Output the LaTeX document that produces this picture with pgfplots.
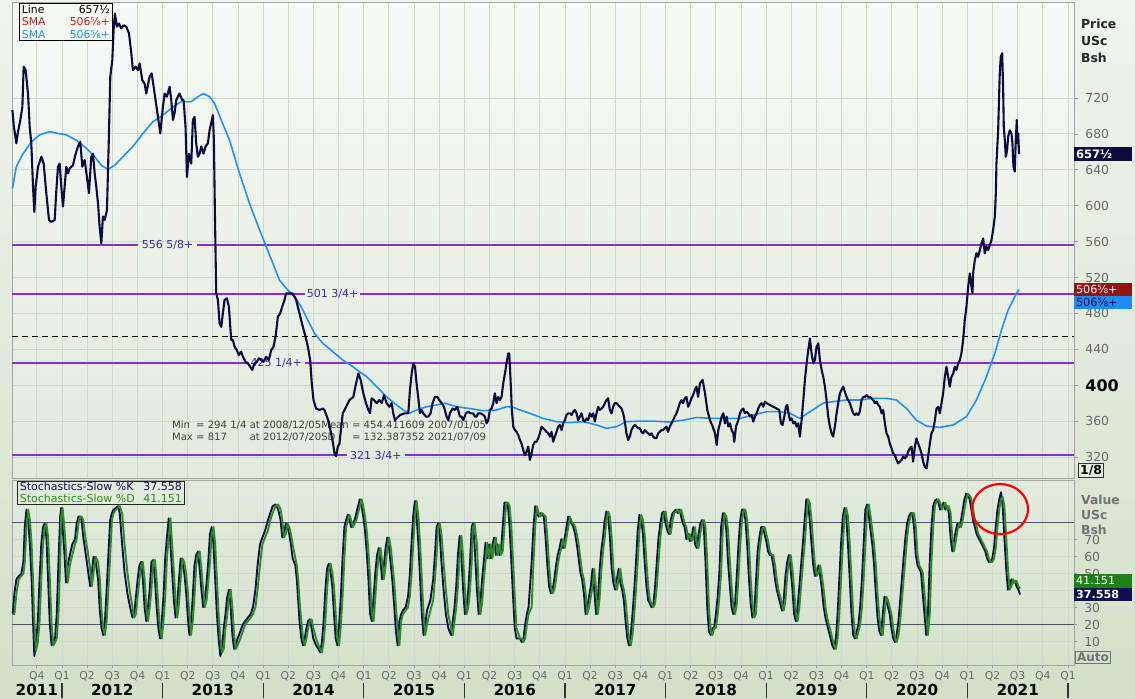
\documentclass[border=0pt]{standalone}
\usepackage{pgfplots}
\pgfplotsset{compat=1.18}
\usepackage{pgfplotstable}
\usepackage{fontspec}
\setmainfont{DejaVu Sans}
\definecolor{pricecol}{RGB}{12,12,62}
\definecolor{smacol}{RGB}{35,145,235}
\definecolor{purp}{RGB}{140,45,205}
\definecolor{purptext}{RGB}{60,45,150}
\definecolor{kcol}{RGB}{14,16,80}
\definecolor{dcol}{RGB}{45,140,35}
\definecolor{bgTop}{RGB}{247,249,245}
\definecolor{bgBot}{RGB}{225,234,219}
\definecolor{sTop}{RGB}{226,235,220}
\definecolor{sBot}{RGB}{212,226,203}
\definecolor{pageTop}{RGB}{240,244,237}
\definecolor{pageBot}{RGB}{210,224,200}
\definecolor{gridcol}{RGB}{208,215,206}
\definecolor{ticklab}{RGB}{105,105,105}
\definecolor{darkred}{RGB}{150,20,20}
\definecolor{legred}{RGB}{175,35,35}
\definecolor{boxblue}{RGB}{30,140,240}
\definecolor{boxgreen}{RGB}{30,130,20}
\definecolor{stochline}{RGB}{75,85,115}
\newcommand\fs[2]{\fontsize{#1}{#2}\selectfont}

\pgfplotstableread{
x y
2011.507 706.6
2011.520 690
2011.546 669.5
2011.563 682.5
2011.586 695.5
2011.606 710
2011.619 755
2011.639 751
2011.662 725
2011.679 688
2011.695 669.5
2011.712 621
2011.725 593
2011.738 621
2011.762 643.5
2011.795 654.6
2011.818 647
2011.844 614
2011.871 584
2011.894 582
2011.927 584
2011.944 617.5
2011.960 643.5
2011.977 647
2011.993 621
2012.010 599
2012.026 621
2012.043 643.5
2012.060 636
2012.076 641.6
2012.109 645
2012.136 658
2012.159 666
2012.182 671
2012.202 643.5
2012.225 651
2012.248 632
2012.268 614
2012.291 654.6
2012.308 658
2012.325 636
2012.341 621
2012.358 602.6
2012.374 576.6
2012.391 558
2012.407 588
2012.424 584
2012.447 595
2012.467 680.6
2012.480 743.8
2012.500 762
2012.513 796
2012.526 814
2012.546 799.5
2012.566 803
2012.589 797.6
2012.613 801
2012.639 799.5
2012.666 792
2012.689 770
2012.705 751
2012.732 755
2012.755 751
2012.772 758.6
2012.798 740
2012.821 736
2012.838 725
2012.871 743.8
2012.891 747.5
2012.911 732.6
2012.930 717.8
2012.954 699
2012.977 680.6
2013.003 710
2013.020 725
2013.043 721.5
2013.070 732.6
2013.086 717.8
2013.103 695.5
2013.119 703
2013.136 717.8
2013.152 721.5
2013.169 725
2013.195 717.8
2013.209 717.8
2013.228 688
2013.242 632
2013.262 658
2013.285 647
2013.301 695.5
2013.318 699
2013.334 669.5
2013.351 654.6
2013.368 658
2013.384 666
2013.407 658
2013.427 666
2013.450 669.5
2013.467 684
2013.483 692
2013.500 701
2013.510 673
2013.520 591.5
2013.533 502.4
2013.550 495
2013.566 469
2013.583 465
2013.599 480
2013.616 495
2013.639 496.8
2013.659 487.5
2013.682 450.4
2013.699 450.4
2013.715 443
2013.738 439
2013.758 433.6
2013.781 437.4
2013.798 431.8
2013.825 426
2013.848 424.4
2013.871 420.6
2013.891 417
2013.914 424.4
2013.937 426
2013.957 430
2013.980 428
2014.003 426
2014.030 431.8
2014.056 428
2014.079 439
2014.103 443
2014.123 454
2014.146 476.4
2014.169 480
2014.189 487.5
2014.212 495
2014.228 502.4
2014.262 502.4
2014.288 502.4
2014.311 498.7
2014.328 495
2014.344 487.5
2014.361 480
2014.394 465
2014.421 454
2014.444 443
2014.467 428
2014.483 402
2014.500 383.5
2014.526 374
2014.560 372.4
2014.593 374
2014.609 372.4
2014.650 360
2014.690 338
2014.709 324
2014.725 321
2014.742 331.5
2014.758 335
2014.791 368.7
2014.825 376
2014.858 383.5
2014.896 387
2014.923 402
2014.946 413
2014.969 406
2014.995 391
2015.022 380
2015.045 372.4
2015.062 368.7
2015.078 385.4
2015.101 383.5
2015.128 380
2015.154 383.5
2015.178 380
2015.201 389
2015.227 380
2015.254 376
2015.277 380
2015.293 368.7
2015.310 361
2015.360 366.8
2015.409 368.7
2015.442 368.7
2015.459 394.7
2015.476 413
2015.492 424.4
2015.509 420.6
2015.525 402
2015.542 385.4
2015.558 368.7
2015.575 372.4
2015.591 368.7
2015.618 365
2015.641 365
2015.664 368.7
2015.684 380
2015.707 387
2015.731 387
2015.750 383.5
2015.774 380
2015.797 376
2015.823 365
2015.840 361
2015.856 368.7
2015.883 374
2015.906 372.4
2015.929 376
2015.956 365
2015.972 365
2015.989 361
2016.015 368.7
2016.038 370.5
2016.062 368.7
2016.088 368.7
2016.105 365
2016.121 365
2016.138 368.7
2016.161 368.7
2016.188 366.8
2016.204 365
2016.221 357.5
2016.237 361
2016.254 372.4
2016.270 374
2016.287 380
2016.303 391
2016.320 380
2016.337 387
2016.353 383.5
2016.370 387
2016.386 402
2016.403 413
2016.419 424.4
2016.436 435.5
2016.446 435.5
2016.459 406
2016.472 372.4
2016.486 353.8
2016.502 350
2016.519 348
2016.535 344.5
2016.552 339
2016.568 335
2016.585 327.8
2016.601 322
2016.618 326
2016.635 331.5
2016.651 316.7
2016.668 324
2016.684 333.4
2016.701 337
2016.717 337
2016.734 341
2016.750 346.4
2016.767 353.8
2016.784 352
2016.800 350
2016.817 348
2016.833 346.4
2016.850 342.7
2016.866 348
2016.883 337
2016.899 342.7
2016.916 348
2016.933 353.8
2016.949 355.7
2016.966 350
2016.982 357.5
2016.999 361
2017.015 366.8
2017.032 368.7
2017.048 368.7
2017.065 366.8
2017.082 370.5
2017.098 372.4
2017.115 368.7
2017.131 361
2017.148 365
2017.164 368.7
2017.181 361
2017.197 359.4
2017.214 363
2017.231 361
2017.247 368.7
2017.264 365
2017.280 368.7
2017.297 359.4
2017.313 368.7
2017.330 376
2017.346 372.4
2017.363 374
2017.380 376
2017.396 380
2017.413 383.5
2017.429 385.4
2017.446 372.4
2017.462 368.7
2017.479 376
2017.495 380
2017.512 380
2017.529 378
2017.545 376
2017.562 374
2017.578 368.7
2017.595 359.4
2017.611 346.4
2017.628 339
2017.644 342.7
2017.661 350
2017.678 353.8
2017.694 355.7
2017.711 353.8
2017.727 352
2017.744 352
2017.760 348
2017.777 346.4
2017.793 350
2017.810 348
2017.827 346.4
2017.843 344.5
2017.860 346.4
2017.876 342.7
2017.893 341
2017.909 341
2017.926 346.4
2017.942 348
2017.959 350
2017.976 350
2017.992 352
2018.009 353.8
2018.025 348
2018.042 353.8
2018.058 357.5
2018.075 361
2018.091 365
2018.108 368.7
2018.125 374
2018.141 380
2018.158 383.5
2018.174 380
2018.191 385.4
2018.207 387
2018.224 376
2018.240 380
2018.257 385.4
2018.274 389
2018.290 394.7
2018.307 398.4
2018.323 387
2018.342 402
2018.368 406
2018.392 391
2018.415 372.4
2018.441 361
2018.468 354
2018.491 346.4
2018.508 333.4
2018.524 350
2018.541 357.5
2018.557 365
2018.574 368.7
2018.590 357.5
2018.607 365
2018.623 354
2018.640 357.5
2018.657 350
2018.673 346.4
2018.683 337
2018.700 354
2018.723 361
2018.739 368.7
2018.756 372.4
2018.772 374
2018.789 368.7
2018.806 370.5
2018.822 368.7
2018.839 365
2018.855 366.8
2018.872 359.4
2018.888 365
2018.905 368.7
2018.921 374
2018.938 378
2018.955 380
2018.971 376
2018.988 381.7
2019.004 380
2019.037 378
2019.070 376
2019.104 374
2019.130 372.4
2019.147 357.5
2019.163 355.7
2019.180 365
2019.196 376
2019.210 378
2019.223 368.7
2019.236 361
2019.253 363
2019.269 357.5
2019.286 359.4
2019.302 354
2019.319 357.5
2019.335 342.7
2019.352 361
2019.369 383.5
2019.385 406
2019.402 424.4
2019.418 439
2019.435 452
2019.451 435.5
2019.468 424.4
2019.484 428
2019.501 443
2019.518 446.6
2019.534 428
2019.551 417
2019.567 409.5
2019.584 398.4
2019.600 383.5
2019.617 365
2019.633 354
2019.650 346.4
2019.666 342.7
2019.683 354
2019.700 368.7
2019.716 380
2019.733 391
2019.749 394.7
2019.766 398.4
2019.782 392.8
2019.799 387
2019.815 383.5
2019.832 380
2019.849 374
2019.865 368.7
2019.882 366.8
2019.898 368.7
2019.915 366.8
2019.931 370.5
2019.948 383.5
2019.965 387
2019.981 387
2019.998 389
2020.014 387
2020.031 387
2020.047 385.4
2020.064 383.5
2020.080 380
2020.097 381.7
2020.114 378
2020.130 376
2020.147 368.7
2020.163 372.4
2020.180 357.5
2020.196 346.4
2020.213 342.7
2020.229 335
2020.246 329.7
2020.263 324
2020.279 322
2020.296 316.7
2020.312 313
2020.329 314.8
2020.345 316.7
2020.362 320.4
2020.379 318.5
2020.395 320.4
2020.412 326
2020.428 329.7
2020.445 331.5
2020.461 314.8
2020.478 331.5
2020.494 340.8
2020.511 335
2020.528 329.7
2020.544 324
2020.561 314.8
2020.577 309
2020.594 307.4
2020.610 320.4
2020.627 335
2020.643 346.4
2020.660 350
2020.677 361
2020.693 374
2020.710 376
2020.726 368.7
2020.743 380
2020.759 391
2020.776 409.5
2020.792 420.6
2020.809 409.5
2020.825 398.4
2020.842 409.5
2020.859 413
2020.875 420.6
2020.892 417
2020.908 424.4
2020.925 428
2020.941 435.5
2020.958 450.4
2020.974 472.6
2020.991 487.5
2021.008 509.8
2021.024 524.6
2021.041 509.8
2021.051 502.4
2021.057 524.6
2021.074 539.5
2021.090 547
2021.107 543
2021.124 550.6
2021.140 558
2021.157 563.6
2021.173 547
2021.190 554.4
2021.206 550.6
2021.223 556
2021.240 561.8
2021.256 573
2021.273 588
2021.283 614
2021.289 647
2021.306 684
2021.316 725
2021.322 747.5
2021.332 766
2021.346 770
2021.355 732.6
2021.362 688
2021.372 673
2021.382 654.6
2021.395 662
2021.405 677
2021.422 684
2021.438 680.6
2021.448 669.5
2021.458 643.5
2021.471 638
2021.481 673
2021.491 695.5
2021.498 669.5
2021.505 680.6
2021.514 657.5
}\pricetab

\pgfplotstableread{
x y
2011.507 619
2011.546 643.5
2011.613 658
2011.695 671
2011.778 679
2011.877 682.5
2011.960 680.6
2012.043 679
2012.142 673
2012.242 664
2012.325 654.6
2012.391 645
2012.457 640.5
2012.523 645
2012.606 654.6
2012.705 666
2012.805 680.6
2012.904 693.6
2013.003 701
2013.103 710
2013.185 716
2013.285 716
2013.351 721.5
2013.407 725
2013.467 721.5
2013.517 714
2013.583 695.5
2013.666 673
2013.765 636
2013.864 602.6
2013.964 573
2014.030 554.4
2014.096 535.8
2014.162 517
2014.245 506
2014.311 499
2014.377 487.5
2014.444 472.6
2014.510 457.8
2014.593 446.6
2014.692 437.4
2014.791 428
2014.891 420.6
2014.957 415
2015.029 409.5
2015.128 398.4
2015.227 387
2015.327 378
2015.393 372.4
2015.452 368.7
2015.525 372.4
2015.625 376
2015.724 378
2015.807 380
2015.923 376
2016.055 374
2016.188 371.6
2016.320 372.4
2016.419 376
2016.469 376
2016.552 372.4
2016.651 368.7
2016.784 363
2016.916 359.4
2017.048 358.3
2017.181 359.4
2017.313 355.7
2017.413 352
2017.512 353.8
2017.611 359.4
2017.744 360
2017.876 360
2018.042 359
2018.174 361
2018.307 364
2018.474 363
2018.607 363
2018.739 363
2018.872 366.8
2019.004 370.5
2019.137 370.5
2019.236 368.7
2019.335 363
2019.435 370.5
2019.567 380
2019.666 381.7
2019.799 383.5
2019.931 383.5
2020.064 385.4
2020.196 385.4
2020.296 383.5
2020.395 374
2020.494 361
2020.594 354.5
2020.726 353
2020.859 355.7
2020.991 365
2021.090 383.5
2021.190 409.5
2021.273 435.5
2021.339 461.5
2021.405 483.8
2021.471 498.6
2021.514 506.6
}\smatab

\pgfplotstableread{
x k d
2011.510 26.1 26.1
2011.527 38.4 26.1
2011.547 46.6 38.4
2011.571 48.6 46.6
2011.595 49.7 48.6
2011.616 56.8 49.7
2011.630 77.3 56.8
2011.647 87.6 77.3
2011.664 81.4 87.6
2011.681 67.1 81.4
2011.698 46.6 67.1
2011.712 22.0 46.6
2011.725 1.5 22.0
2011.742 9.7 4.5
2011.760 22.0 9.7
2011.777 46.6 22.0
2011.794 67.1 46.6
2011.811 77.3 67.1
2011.828 79.4 77.3
2011.845 71.2 79.4
2011.862 46.6 71.2
2011.879 20.0 46.6
2011.897 7.7 20.0
2011.914 9.7 7.7
2011.931 11.8 9.7
2011.948 26.1 11.8
2011.965 56.8 26.1
2011.982 83.5 56.8
2011.992 88.6 83.5
2012.006 77.3 88.6
2012.023 63.0 77.3
2012.040 44.6 63.0
2012.057 54.8 44.6
2012.078 60.9 54.8
2012.102 67.1 60.9
2012.129 70.2 67.1
2012.146 79.4 70.2
2012.164 83.5 79.4
2012.181 83.5 83.5
2012.194 81.4 83.5
2012.212 71.2 81.4
2012.232 63.0 71.2
2012.256 52.8 63.0
2012.280 42.5 52.8
2012.297 50.7 42.5
2012.314 59.9 50.7
2012.335 56.8 59.9
2012.359 46.6 56.8
2012.376 28.2 46.6
2012.393 17.9 28.2
2012.410 13.8 17.9
2012.427 22.0 13.8
2012.444 40.5 22.0
2012.461 60.9 40.5
2012.479 81.4 60.9
2012.496 85.5 81.4
2012.513 87.6 85.5
2012.537 88.6 87.6
2012.557 89.6 88.6
2012.574 85.5 89.6
2012.598 67.1 85.5
2012.622 50.7 67.1
2012.650 38.4 50.7
2012.677 30.2 38.4
2012.701 24.1 30.2
2012.718 26.1 24.1
2012.735 36.4 26.1
2012.752 46.6 36.4
2012.770 54.8 46.6
2012.787 56.8 54.8
2012.804 46.6 56.8
2012.821 30.2 46.6
2012.838 22.0 30.2
2012.855 30.2 22.0
2012.872 40.5 30.2
2012.889 56.8 40.5
2012.906 57.9 56.8
2012.924 46.6 57.9
2012.941 30.2 46.6
2012.958 17.9 30.2
2012.975 11.8 17.9
2012.992 22.0 11.8
2013.009 36.4 22.0
2013.026 58.9 36.4
2013.043 71.2 58.9
2013.061 82.5 71.2
2013.078 67.1 82.5
2013.095 50.7 67.1
2013.112 34.3 50.7
2013.129 24.1 34.3
2013.146 32.3 24.1
2013.163 46.6 32.3
2013.180 58.9 46.6
2013.197 56.8 58.9
2013.215 50.7 56.8
2013.232 40.5 50.7
2013.249 26.1 40.5
2013.266 13.8 26.1
2013.283 22.0 13.8
2013.300 36.4 22.0
2013.317 54.8 36.4
2013.334 60.9 54.8
2013.352 63.0 60.9
2013.369 52.8 63.0
2013.386 40.5 52.8
2013.403 30.2 40.5
2013.420 34.3 30.2
2013.437 44.6 34.3
2013.454 56.8 44.6
2013.471 73.2 56.8
2013.488 77.3 73.2
2013.506 67.1 77.3
2013.523 46.6 67.1
2013.540 26.1 46.6
2013.557 11.8 26.1
2013.574 1.5 11.8
2013.591 5.7 3.5
2013.608 17.9 5.7
2013.625 26.1 17.9
2013.643 36.4 26.1
2013.660 40.5 36.4
2013.677 30.2 40.5
2013.694 13.8 30.2
2013.711 5.7 13.8
2013.728 7.7 5.7
2013.745 11.8 7.7
2013.773 15.9 11.8
2013.797 20.0 15.9
2013.821 22.0 20.0
2013.848 24.1 22.0
2013.875 26.1 24.1
2013.899 30.2 26.1
2013.923 40.5 30.2
2013.944 54.8 40.5
2013.968 67.1 54.8
2013.992 71.2 67.1
2014.019 75.3 71.2
2014.047 81.4 75.3
2014.070 85.5 81.4
2014.094 89.6 85.5
2014.122 90.6 89.6
2014.149 87.6 90.6
2014.173 81.4 87.6
2014.190 71.2 81.4
2014.207 73.2 71.2
2014.225 79.4 73.2
2014.242 77.3 79.4
2014.259 73.2 77.3
2014.276 67.1 73.2
2014.293 58.9 67.1
2014.320 54.8 58.9
2014.334 46.6 54.8
2014.348 34.3 46.6
2014.361 22.0 34.3
2014.379 11.8 22.0
2014.396 7.7 11.8
2014.413 11.8 7.7
2014.430 17.9 11.8
2014.447 22.0 17.9
2014.464 23.1 22.0
2014.481 17.9 23.1
2014.498 11.8 17.9
2014.526 7.7 11.8
2014.550 5.7 7.7
2014.567 3.6 5.7
2014.584 9.7 3.6
2014.601 22.0 9.7
2014.618 40.5 22.0
2014.635 52.8 40.5
2014.652 55.8 52.8
2014.670 50.7 55.8
2014.687 42.5 50.7
2014.704 26.1 42.5
2014.721 11.8 26.1
2014.738 7.7 11.8
2014.755 20.0 7.7
2014.772 36.4 20.0
2014.789 58.9 36.4
2014.807 77.3 58.9
2014.824 81.4 77.3
2014.841 84.5 81.4
2014.858 81.4 84.5
2014.875 77.3 81.4
2014.892 79.4 77.3
2014.909 81.4 79.4
2014.926 85.5 81.4
2014.943 89.6 85.5
2014.961 93.7 89.6
2014.978 89.6 93.7
2014.995 83.5 89.6
2015.012 75.3 83.5
2015.029 63.0 75.3
2015.046 46.6 63.0
2015.063 26.1 46.6
2015.080 22.0 26.1
2015.098 36.4 22.0
2015.115 50.7 36.4
2015.132 60.9 50.7
2015.149 65.0 60.9
2015.166 56.8 65.0
2015.183 46.6 56.8
2015.200 54.8 46.6
2015.217 65.0 54.8
2015.234 71.2 65.0
2015.252 65.0 71.2
2015.269 54.8 65.0
2015.286 44.6 54.8
2015.303 30.2 44.6
2015.320 15.9 30.2
2015.337 7.7 15.9
2015.354 22.0 7.7
2015.371 26.1 22.0
2015.389 28.2 26.1
2015.416 30.2 28.2
2015.440 36.4 30.2
2015.457 48.6 36.4
2015.474 67.1 48.6
2015.491 83.5 67.1
2015.508 92.7 83.5
2015.525 83.5 92.7
2015.543 67.1 83.5
2015.560 46.6 67.1
2015.577 26.1 46.6
2015.594 13.8 26.1
2015.611 20.0 13.8
2015.628 28.2 20.0
2015.662 34.3 28.2
2015.690 46.6 34.3
2015.707 60.9 46.6
2015.724 77.3 60.9
2015.738 79.4 77.3
2015.755 73.2 79.4
2015.772 56.8 73.2
2015.793 40.5 56.8
2015.816 26.1 40.5
2015.840 17.9 26.1
2015.868 13.8 17.9
2015.885 22.0 13.8
2015.902 30.2 22.0
2015.919 42.5 30.2
2015.936 60.9 42.5
2015.953 72.2 60.9
2015.971 58.9 72.2
2015.988 40.5 58.9
2016.005 26.1 40.5
2016.022 30.2 26.1
2016.039 40.5 30.2
2016.056 56.8 40.5
2016.073 77.3 56.8
2016.084 79.4 77.3
2016.101 67.1 79.4
2016.125 40.5 67.1
2016.142 26.1 40.5
2016.159 32.3 26.1
2016.176 46.6 32.3
2016.193 56.8 46.6
2016.210 68.1 56.8
2016.227 58.9 68.1
2016.244 67.1 58.9
2016.262 58.9 67.1
2016.279 67.1 58.9
2016.296 71.2 67.1
2016.313 60.9 71.2
2016.330 67.1 60.9
2016.347 60.9 67.1
2016.364 63.0 60.9
2016.381 77.3 63.0
2016.398 91.7 77.3
2016.416 91.7 91.7
2016.433 89.6 91.7
2016.450 77.3 89.6
2016.467 56.8 77.3
2016.484 36.4 56.8
2016.501 17.9 36.4
2016.518 11.8 17.9
2016.553 11.8 11.8
2016.570 9.7 11.8
2016.587 11.8 9.7
2016.604 20.0 11.8
2016.621 26.1 20.0
2016.638 30.2 26.1
2016.669 56.8 30.2
2016.687 77.3 56.8
2016.704 89.6 77.3
2016.721 85.5 89.6
2016.738 83.5 85.5
2016.756 85.5 83.5
2016.773 84.5 85.5
2016.790 83.5 84.5
2016.807 71.2 83.5
2016.825 54.8 71.2
2016.842 42.5 54.8
2016.859 38.4 42.5
2016.877 40.5 38.4
2016.894 46.6 40.5
2016.911 54.8 46.6
2016.928 60.9 54.8
2016.946 65.0 60.9
2016.963 70.2 65.0
2016.980 65.0 70.2
2016.998 71.2 65.0
2017.015 77.3 71.2
2017.032 83.5 77.3
2017.049 80.4 83.5
2017.067 79.4 80.4
2017.084 77.3 79.4
2017.101 73.2 77.3
2017.118 67.1 73.2
2017.136 58.9 67.1
2017.153 50.7 58.9
2017.170 46.6 50.7
2017.188 38.4 46.6
2017.205 26.1 38.4
2017.222 30.2 26.1
2017.239 36.4 30.2
2017.257 42.5 36.4
2017.274 52.8 42.5
2017.291 40.5 52.8
2017.309 26.1 40.5
2017.326 34.3 26.1
2017.343 50.7 34.3
2017.360 63.0 50.7
2017.378 71.2 63.0
2017.395 81.4 71.2
2017.412 86.5 81.4
2017.429 83.5 86.5
2017.447 71.2 83.5
2017.464 52.8 71.2
2017.481 44.6 52.8
2017.499 40.5 44.6
2017.516 46.6 40.5
2017.533 52.8 46.6
2017.550 44.6 52.8
2017.568 40.5 44.6
2017.585 34.3 40.5
2017.602 22.0 34.3
2017.620 11.8 22.0
2017.637 7.7 11.8
2017.654 13.8 7.7
2017.671 26.1 13.8
2017.689 40.5 26.1
2017.706 56.8 40.5
2017.723 75.3 56.8
2017.740 84.5 75.3
2017.758 81.4 84.5
2017.775 73.2 81.4
2017.792 56.8 73.2
2017.810 42.5 56.8
2017.827 34.3 42.5
2017.844 32.3 34.3
2017.861 30.2 32.3
2017.879 32.3 30.2
2017.896 42.5 32.3
2017.913 56.8 42.5
2017.930 71.2 56.8
2017.948 79.4 71.2
2017.965 85.5 79.4
2017.982 86.5 85.5
2018.000 79.4 86.5
2018.017 75.3 79.4
2018.034 73.2 75.3
2018.051 81.4 73.2
2018.069 85.5 81.4
2018.086 86.5 85.5
2018.103 87.6 86.5
2018.121 85.5 87.6
2018.138 87.6 85.5
2018.155 83.5 87.6
2018.172 79.4 83.5
2018.190 77.3 79.4
2018.207 70.2 77.3
2018.224 73.2 70.2
2018.241 69.1 73.2
2018.259 71.2 69.1
2018.276 77.3 71.2
2018.293 67.1 77.3
2018.311 65.0 67.1
2018.328 73.2 65.0
2018.345 79.4 73.2
2018.362 81.4 79.4
2018.380 77.3 81.4
2018.397 56.8 77.3
2018.414 30.2 56.8
2018.431 15.9 30.2
2018.449 13.8 15.9
2018.466 17.9 13.8
2018.483 17.9 17.9
2018.500 26.1 17.9
2018.518 36.4 26.1
2018.535 50.7 36.4
2018.552 77.3 50.7
2018.570 85.5 77.3
2018.587 83.5 85.5
2018.604 75.3 83.5
2018.621 56.8 75.3
2018.639 42.5 56.8
2018.656 30.2 42.5
2018.673 26.1 30.2
2018.691 32.3 26.1
2018.708 48.6 32.3
2018.725 67.1 48.6
2018.742 81.4 67.1
2018.760 87.6 81.4
2018.777 87.6 87.6
2018.794 81.4 87.6
2018.811 67.1 81.4
2018.829 46.6 67.1
2018.846 32.3 46.6
2018.863 24.1 32.3
2018.881 26.1 24.1
2018.898 44.6 26.1
2018.915 63.0 44.6
2018.932 71.2 63.0
2018.950 77.3 71.2
2018.967 77.3 77.3
2018.984 73.2 77.3
2019.001 69.1 73.2
2019.019 63.0 69.1
2019.036 60.9 63.0
2019.053 60.9 60.9
2019.071 54.8 60.9
2019.088 46.6 54.8
2019.105 40.5 46.6
2019.122 36.4 40.5
2019.140 32.3 36.4
2019.157 28.2 32.3
2019.174 34.3 28.2
2019.192 48.6 34.3
2019.209 56.8 48.6
2019.226 60.9 56.8
2019.243 52.8 60.9
2019.261 40.5 52.8
2019.278 26.1 40.5
2019.295 22.0 26.1
2019.312 30.2 22.0
2019.330 42.5 30.2
2019.347 54.8 42.5
2019.364 67.1 54.8
2019.382 81.4 67.1
2019.399 93.7 81.4
2019.416 91.7 93.7
2019.433 81.4 91.7
2019.451 67.1 81.4
2019.468 54.8 67.1
2019.485 48.6 54.8
2019.503 50.7 48.6
2019.520 54.8 50.7
2019.537 48.6 54.8
2019.554 40.5 48.6
2019.572 30.2 40.5
2019.589 24.1 30.2
2019.606 20.0 24.1
2019.623 15.9 20.0
2019.641 11.8 15.9
2019.658 7.7 11.8
2019.675 5.7 7.7
2019.693 11.8 5.7
2019.710 26.1 11.8
2019.727 46.6 26.1
2019.744 67.1 46.6
2019.762 83.5 67.1
2019.779 88.6 83.5
2019.796 83.5 88.6
2019.813 67.1 83.5
2019.831 46.6 67.1
2019.848 26.1 46.6
2019.865 13.8 26.1
2019.883 11.8 13.8
2019.900 15.9 11.8
2019.917 20.0 15.9
2019.934 30.2 20.0
2019.952 46.6 30.2
2019.969 67.1 46.6
2019.986 87.6 67.1
2020.004 90.6 87.6
2020.021 83.5 90.6
2020.038 75.3 83.5
2020.055 67.1 75.3
2020.073 54.8 67.1
2020.090 38.4 54.8
2020.107 24.1 38.4
2020.125 15.9 24.1
2020.142 13.8 15.9
2020.159 26.1 13.8
2020.176 36.4 26.1
2020.194 34.3 36.4
2020.211 30.2 34.3
2020.228 26.1 30.2
2020.245 17.9 26.1
2020.263 11.8 17.9
2020.280 9.7 11.8
2020.297 13.8 9.7
2020.315 22.0 13.8
2020.332 34.3 22.0
2020.349 46.6 34.3
2020.366 58.9 46.6
2020.384 71.2 58.9
2020.401 79.4 71.2
2020.418 83.5 79.4
2020.436 85.5 83.5
2020.453 85.5 85.5
2020.470 77.3 85.5
2020.487 60.9 77.3
2020.505 54.8 60.9
2020.522 52.8 54.8
2020.539 50.7 52.8
2020.556 38.4 50.7
2020.574 26.1 38.4
2020.591 13.8 26.1
2020.608 26.1 13.8
2020.626 56.8 26.1
2020.643 77.3 56.8
2020.660 89.6 77.3
2020.677 92.7 89.6
2020.695 93.7 92.7
2020.712 91.7 93.7
2020.729 87.6 91.7
2020.747 89.6 87.6
2020.764 91.7 89.6
2020.781 87.6 91.7
2020.798 89.6 87.6
2020.816 85.5 89.6
2020.833 71.2 85.5
2020.850 63.0 71.2
2020.867 69.1 63.0
2020.885 75.3 69.1
2020.902 79.4 75.3
2020.919 77.3 79.4
2020.937 81.4 77.3
2020.954 87.6 81.4
2020.971 93.7 87.6
2020.988 96.8 93.7
2021.006 95.8 96.8
2021.023 93.7 95.8
2021.040 87.6 93.7
2021.057 81.4 87.6
2021.075 77.3 81.4
2021.092 73.2 77.3
2021.109 71.2 73.2
2021.127 69.1 71.2
2021.144 67.1 69.1
2021.161 65.0 67.1
2021.178 63.0 65.0
2021.196 58.9 63.0
2021.213 56.8 58.9
2021.230 56.8 56.8
2021.248 58.9 56.8
2021.265 65.0 58.9
2021.282 77.3 65.0
2021.299 87.6 77.3
2021.317 93.7 87.6
2021.334 97.8 93.7
2021.351 89.6 95.0
2021.368 71.2 89.6
2021.386 52.8 71.2
2021.403 40.5 52.8
2021.420 42.5 40.5
2021.438 46.6 42.5
2021.455 44.6 46.6
2021.472 45.6 44.6
2021.489 42.5 45.6
2021.507 40.5 42.5
2021.524 37.6 41.2
}\stochtab

\pgfplotsset{
  qticks/.style={
    xtick={2011.75,2012,2012.25,2012.5,2012.75,2013,2013.25,2013.5,2013.75,2014,2014.25,2014.5,2014.75,2015,2015.25,2015.5,2015.75,2016,2016.25,2016.5,2016.75,2017,2017.25,2017.5,2017.75,2018,2018.25,2018.5,2018.75,2019,2019.25,2019.5,2019.75,2020,2020.25,2020.5,2020.75,2021,2021.25,2021.5,2021.75,2022},
  },
  common/.style={
    scale only axis, width=531pt, xmin=2011.503, xmax=2022.06,
    clip=false,
    axis line style={draw=gray!70},
    xmajorgrids, ymajorgrids,
    major grid style={draw=gridcol, line width=0.45pt},
    tick align=outside,
    major tick length=2.2pt,
    tick style={draw=gray!80, line width=0.4pt},
    ytick pos=right, yticklabel pos=right,
    yticklabel style={font=\fs{6.2}{7}, text=ticklab},
  },
}

\begin{document}
\begin{tikzpicture}
\useasboundingbox (0,0) rectangle (567.5pt,349pt);
\shade[top color=pageTop, bottom color=pageBot] (0,0) rectangle (567.5pt,349pt);

% ---------------- price panel
\begin{axis}[common, qticks,
  at={(6pt,110pt)}, anchor=south west, height=238pt,
  ymin=296.6, ymax=827,
  xticklabels={}, xtick style={draw=none},
  ytick={320,360,400,440,480,520,560,600,640,680,720},
  yticklabels={320,360,{\textcolor{black}{\fs{8}{8}\bfseries 400}},440,480,520,560,600,640,680,720},
  axis background/.style={shade, top color=bgTop, bottom color=bgBot},
]
\addplot[purp, line width=1pt, forget plot] coordinates {(2011.503,556.625)(2012.755,556.625)};
\addplot[purp, line width=1pt, forget plot] coordinates {(2013.342,556.625)(2022.06,556.625)};
\addplot[purp, line width=1pt, forget plot] coordinates {(2011.503,501.75)(2014.415,501.75)};
\addplot[purp, line width=1pt, forget plot] coordinates {(2014.962,501.75)(2022.06,501.75)};
\addplot[purp, line width=1pt, forget plot] coordinates {(2011.503,425.25)(2013.84,425.25)};
\addplot[purp, line width=1pt, forget plot] coordinates {(2014.415,425.25)(2022.06,425.25)};
\addplot[purp, line width=1pt, forget plot] coordinates {(2011.503,321.75)(2014.833,321.75)};
\addplot[purp, line width=1pt, forget plot] coordinates {(2015.409,321.75)(2022.06,321.75)};
\node[text=purptext, font=\fs{5.5}{6}] at (axis cs:2013.05,556.625) {556 5/8+};
\node[text=purptext, font=\fs{5.5}{6}] at (axis cs:2014.69,501.75) {501 3/4+};
\node[text=purptext, font=\fs{5.5}{6}] at (axis cs:2014.13,425.25) {425 1/4+};
\node[text=purptext, font=\fs{5.5}{6}] at (axis cs:2015.12,321.75) {321 3/4+};
\addplot[black, line width=0.5pt, dash pattern=on 3pt off 2pt, forget plot] coordinates {(2011.503,454.41)(2022.06,454.41)};
\node[anchor=west, inner sep=0pt, text=black!75, font=\fs{5.05}{6}] at (axis cs:2013.09,348) {%
\begin{tabular}{@{}l@{ }l@{ }l@{}l@{ }l@{}}
Min & = 294 1/4 & at 2008/12/05 & Mean & = 454.411609 2007/01/05\\
Max & = 817 & at 2012/07/20 & SD & = 132.387352 2021/07/09
\end{tabular}};
\addplot[smacol, line width=0.8pt, line join=round] table[x=x,y=y] {\smatab};
\addplot[pricecol, line width=1.05pt, line join=round] table[x=x,y=y] {\pricetab};
\coordinate (pv) at (axis cs:2022.06,657.5);
\coordinate (sv) at (axis cs:2022.06,506.2);
\end{axis}

\node[fill=pricecol, text=white, anchor=west, inner xsep=0.8pt, inner ysep=0.6pt, text width=27.4pt, minimum height=7pt, font=\fs{5.8}{6}\bfseries] at (pv) {657½};
\node[fill=darkred, text=white, anchor=west, inner xsep=0.8pt, inner ysep=0.6pt, text width=27.4pt, minimum height=6.6pt, font=\fs{5.6}{6}] at (sv) {506⅝+};
\node[fill=boxblue, text=pricecol, anchor=west, inner xsep=0.8pt, inner ysep=0.6pt, text width=27.4pt, minimum height=6.2pt, font=\fs{5.6}{6}] at ([yshift=-6.3pt]sv) {506⅝+};

\node[draw=black, line width=0.5pt, fill=bgTop, anchor=north west, inner xsep=1.2pt, inner ysep=0.8pt, align=left, font=\fs{5.4}{6.3}] at (9.5pt,347.5pt) {%
\makebox[44pt]{Line\hfill 657½}\\
\makebox[44pt]{\textcolor{legred}{SMA\hfill 506⅝+}}\\
\makebox[44pt]{\textcolor{smacol}{SMA\hfill 506⅝+}}};

\node[anchor=west, font=\fs{6.2}{7}\bfseries, text=black!85] at (537pt,337pt) {Price};
\node[anchor=west, font=\fs{6.2}{7}\bfseries, text=black!85] at (537pt,328.5pt) {USc};
\node[anchor=west, font=\fs{6.2}{7}\bfseries, text=black!85] at (537pt,320pt) {Bsh};
\node[draw=black!80, line width=0.5pt, fill=pageTop!60!pageBot, inner sep=0.8pt, font=\fs{6.2}{7}\bfseries] at (545.5pt,113.8pt) {1/8};

% ---------------- stochastics panel
\begin{axis}[common, qticks,
  at={(6pt,16.5pt)}, anchor=south west, height=92.5pt,
  ymin=-3.8, ymax=105,
  xtick pos=left,
  major tick length=1.6pt,
  xticklabels={Q4,Q1,Q2,Q3,Q4,Q1,Q2,Q3,Q4,Q1,Q2,Q3,Q4,Q1,Q2,Q3,Q4,Q1,Q2,Q3,Q4,Q1,Q2,Q3,Q4,Q1,Q2,Q3,Q4,Q1,Q2,Q3,Q4,Q1,Q2,Q3,Q4,Q1,Q2,Q3,Q4,Q1},
  xticklabel style={font=\fs{5.4}{6}, text=ticklab, yshift=2pt},
  ytick={10,20,30,40,50,60,70},
  yticklabels={10,20,30,,50,60,70},
  axis background/.style={shade, top color=sTop, bottom color=sBot},
]
\addplot[stochline, line width=0.6pt, forget plot] coordinates {(2011.503,80)(2022.06,80)};
\addplot[stochline, line width=0.6pt, forget plot] coordinates {(2011.503,20)(2022.06,20)};
\addplot[kcol, line width=0.95pt, line join=round] table[x=x,y=k] {\stochtab};
\addplot[dcol, line width=0.95pt, line join=round] table[x=x,y=d] {\stochtab};
\coordinate (rc) at (axis cs:2021.325,87.9);
\coordinate (kv) at (axis cs:2022.06,37.558);
\coordinate (y11) at (axis cs:2011.75,-3.8);
\coordinate (y12) at (axis cs:2012.5,-3.8);
\coordinate (y13) at (axis cs:2013.5,-3.8);
\coordinate (y14) at (axis cs:2014.5,-3.8);
\coordinate (y15) at (axis cs:2015.5,-3.8);
\coordinate (y16) at (axis cs:2016.5,-3.8);
\coordinate (y17) at (axis cs:2017.5,-3.8);
\coordinate (y18) at (axis cs:2018.5,-3.8);
\coordinate (y19) at (axis cs:2019.5,-3.8);
\coordinate (y20) at (axis cs:2020.5,-3.8);
\coordinate (y21) at (axis cs:2021.5,-3.8);
\coordinate (b12) at (axis cs:2012,-3.8);
\coordinate (b13) at (axis cs:2013,-3.8);
\coordinate (b14) at (axis cs:2014,-3.8);
\coordinate (b15) at (axis cs:2015,-3.8);
\coordinate (b16) at (axis cs:2016,-3.8);
\coordinate (b17) at (axis cs:2017,-3.8);
\coordinate (b18) at (axis cs:2018,-3.8);
\coordinate (b19) at (axis cs:2019,-3.8);
\coordinate (b20) at (axis cs:2020,-3.8);
\coordinate (b21) at (axis cs:2021,-3.8);
\coordinate (b22) at (axis cs:2022,-3.8);
\end{axis}

\draw[red, line width=1.1pt] (rc) ellipse [x radius=14pt, y radius=12.5pt];
\node[fill=kcol, text=white, anchor=west, inner xsep=0.8pt, inner ysep=0.6pt, text width=27.4pt, minimum height=6.8pt, font=\fs{5.6}{6}\bfseries] at (kv) {37.558};
\node[fill=boxgreen, text=white, anchor=west, inner xsep=0.8pt, inner ysep=0.6pt, text width=27.4pt, minimum height=6.8pt, font=\fs{5.6}{6}] at ([yshift=6.9pt]kv) {41.151};
\foreach \b in {12,13,14,15,16,17,18,19,20,21,22}{
  \draw[black!80, line width=0.6pt] ([yshift=-9pt]b\b) -- ([yshift=-16.5pt]b\b);
}
\foreach \y/\t in {11/2011,12/2012,13/2013,14/2014,15/2015,16/2016,17/2017,18/2018,19/2019,20/2020,21/2021}{
  \node[font=\fs{7.6}{8}\bfseries, text=black] at ([yshift=-12.3pt]y\y) {\t};
}

\node[draw=black!85, line width=0.5pt, fill=sTop, anchor=north west, inner xsep=1.2pt, inner ysep=0.6pt, align=left, font=\fs{5.5}{5.9}] at (8.5pt,108.6pt) {%
\makebox[81pt]{\textcolor{kcol}{Stochastics-Slow \%K\hfill 37.558}}\\
\makebox[81pt]{\textcolor{dcol}{Stochastics-Slow \%D\hfill 41.151}}};

\node[anchor=west, font=\fs{6.2}{7}\bfseries, text=black!55] at (537pt,99pt) {Value};
\node[anchor=west, font=\fs{6.2}{7}\bfseries, text=black!55] at (537pt,91.5pt) {USc};
\node[anchor=west, font=\fs{6.2}{7}\bfseries, text=black!55] at (537pt,84pt) {Bsh};
\node[draw=black!55, line width=0.5pt, inner sep=0.8pt, font=\fs{6}{7}\bfseries, text=black!55] at (546.5pt,20.3pt) {Auto};
\end{tikzpicture}
\end{document}
